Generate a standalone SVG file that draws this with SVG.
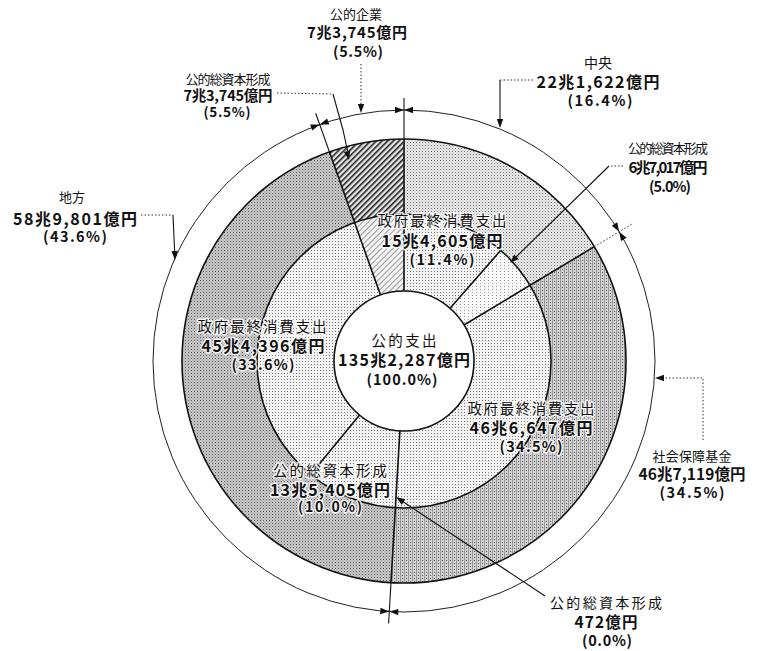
<svg xmlns="http://www.w3.org/2000/svg" width="765" height="651" viewBox="0 0 765 651">
<style>
text{font-family:"Noto Sans CJK JP","Noto Sans",sans-serif;fill:#111;text-anchor:middle}
.nm{font-weight:normal}
.nb{font-weight:bold}
.halo{stroke:#fff;stroke-width:3;stroke-linejoin:round;paint-order:stroke;stroke-opacity:0.85}
.bd{stroke:#111;stroke-width:1.6;fill:none}
.ext{stroke:#111;stroke-width:1.1;fill:none}
.dot{stroke:#333;stroke-width:1;fill:none;stroke-dasharray:1.5 2}
.ld{stroke:#111;stroke-width:1.1;fill:none}
.ah{fill:#111}
</style>
<defs>
<pattern id="pLight" width="3" height="3" patternUnits="userSpaceOnUse"><rect width="3" height="3" fill="#f3f3f3"/><rect width="1" height="1" fill="#7a7a7a"/></pattern>
<pattern id="pMid" width="3" height="3" patternUnits="userSpaceOnUse"><rect width="3" height="3" fill="#ececec"/><rect width="1" height="1" fill="#6a6a6a"/><rect x="1.5" y="1.5" width="1" height="1" fill="#a8a8a8"/></pattern>
<pattern id="pDark" width="3" height="3" patternUnits="userSpaceOnUse"><rect width="3" height="3" fill="#cacaca"/><rect width="1" height="1" fill="#555"/><rect x="1.5" y="1.5" width="1" height="1" fill="#888"/></pattern>
<pattern id="pDark2" width="4" height="3" patternUnits="userSpaceOnUse"><rect width="4" height="3" fill="#d2d2d2"/><rect width="1" height="3" fill="#999"/><rect x="2" y="1" width="1" height="1" fill="#555"/></pattern>
<pattern id="pHatch" width="4" height="4" patternUnits="userSpaceOnUse" patternTransform="rotate(45)"><rect width="4" height="4" fill="#e6e6e6"/><rect width="1.6" height="4" fill="#222"/></pattern>
<pattern id="pHatchL" width="4" height="4" patternUnits="userSpaceOnUse" patternTransform="rotate(45)"><rect width="4" height="4" fill="#f4f4f4"/><rect width="1" height="4" fill="#999"/></pattern>
<pattern id="pVLight" width="4" height="3" patternUnits="userSpaceOnUse"><rect width="4" height="3" fill="#fafafa"/><rect width="1" height="1" fill="#999"/></pattern>
<path id="ah" d="M0,0 L-9,-3.2 L-9,3.2 Z"/>
</defs>
<rect width="765" height="651" fill="#fff"/>

<g id="pie" transform="translate(404,361)">
  <g id="outer-ring">
    <path id="w-chuo" fill="url(#pMid)" d="M0,-222 A222,222 0 0 1 190.30,-114.33 L126.01,-75.71 A147,147 0 0 0 0,-147 Z"/>
    <path id="w-shaho" fill="url(#pDark2)" d="M190.30,-114.33 A222,222 0 0 1 -13.01,221.62 L-8.61,146.75 A147,147 0 0 0 126.01,-75.71 Z"/>
    <path id="w-chiho" fill="url(#pDark)" d="M-13.01,221.62 A222,222 0 0 1 -74.57,-209.10 L-49.38,-138.46 A147,147 0 0 0 -8.61,146.75 Z"/>
    <path id="w-kigyo" fill="url(#pHatch)" d="M-74.57,-209.10 A222,222 0 0 1 0,-222 L0,-147 A147,147 0 0 0 -49.38,-138.46 Z"/>
  </g>
  <g id="middle-ring">
    <path id="m-chuo-c" fill="url(#pLight)" d="M0,-147 A147,147 0 0 1 96.76,-110.66 L46.07,-52.70 A70,70 0 0 0 0,-70 Z"/>
    <path id="m-chuo-k" fill="url(#pVLight)" d="M96.76,-110.66 A147,147 0 0 1 126.01,-75.71 L60.00,-36.05 A70,70 0 0 0 46.07,-52.70 Z"/>
    <path id="m-shaho" fill="url(#pLight)" d="M126.01,-75.71 A147,147 0 0 1 -8.61,146.75 L-4.10,69.88 A70,70 0 0 0 60.00,-36.05 Z"/>
    <path id="m-chiho-k" fill="url(#pLight)" d="M-8.61,146.75 A147,147 0 0 1 -93.33,113.57 L-44.44,54.08 A70,70 0 0 0 -4.10,69.88 Z"/>
    <path id="m-chiho-c" fill="url(#pLight)" d="M-93.33,113.57 A147,147 0 0 1 -49.38,-138.46 L-23.51,-65.93 A70,70 0 0 0 -44.44,54.08 Z"/>
    <path id="m-kigyo" fill="url(#pHatchL)" d="M-49.38,-138.46 A147,147 0 0 1 0,-147 L0,-70 A70,70 0 0 0 -23.51,-65.93 Z"/>
  </g>
  <circle id="c-center" r="70" fill="#fff" stroke="#111" stroke-width="1.6"/>
  <circle r="147" class="bd"/>
  <circle r="222" class="bd"/>
  <circle r="251" fill="none" stroke="#222" stroke-width="1"/>
</g>

<g id="connectors">
  <g transform="translate(404,361)">
    <line class="bd" x1="0" y1="-70" x2="0" y2="-222"/>
    <line class="bd" x1="60.00" y1="-36.05" x2="190.30" y2="-114.33"/>
    <line class="bd" x1="-4.10" y1="69.88" x2="-13.01" y2="221.62"/>
    <line class="bd" x1="-23.51" y1="-65.93" x2="-74.57" y2="-209.10"/>
    <line class="bd" x1="46.07" y1="-52.70" x2="96.76" y2="-110.66"/>
    <line class="bd" x1="-44.44" y1="54.08" x2="-93.33" y2="113.57"/>
    <line class="ext" x1="0" y1="-222" x2="0" y2="-263"/>
    <line class="ext" x1="-74.57" y1="-209.10" x2="-88.34" y2="-247.72"/>
    <line class="ext" x1="-13.01" y1="221.62" x2="-15.41" y2="262.55"/>
    <line class="dot" x1="190.30" y1="-114.33" x2="228.02" y2="-136.99"/>
    <use href="#ah" class="ah" transform="translate(0,-251) rotate(0)"/>
    <use href="#ah" class="ah" transform="translate(0,-251) rotate(180)"/>
    <use href="#ah" class="ah" transform="translate(215.16,-129.27) rotate(59)"/>
    <use href="#ah" class="ah" transform="translate(215.16,-129.27) rotate(239)"/>
    <use href="#ah" class="ah" transform="translate(-14.71,250.57) rotate(183.36)"/>
    <use href="#ah" class="ah" transform="translate(-14.71,250.57) rotate(3.36)"/>
    <use href="#ah" class="ah" transform="translate(-84.31,-236.42) rotate(340.37)"/>
    <use href="#ah" class="ah" transform="translate(-84.31,-236.42) rotate(160.37)"/>
  </g>
  <polyline class="dot" points="361,64 361,105"/>
  <use href="#ah" class="ah" transform="translate(361,113) rotate(90)"/>
  <polyline class="dot" points="277,93 333,94"/>
  <polyline class="ld" points="333,94 343,130 348,153"/>
  <use href="#ah" class="ah" transform="translate(349,160) rotate(77)"/>
  <polyline class="dot" points="533,80 500,80"/>
  <polyline class="ld" points="500,80 500,121"/>
  <use href="#ah" class="ah" transform="translate(500,128) rotate(90)"/>
  <polyline class="dot" points="623,166 609,166"/>
  <polyline class="ld" points="609,166 515,258"/>
  <use href="#ah" class="ah" transform="translate(510,263) rotate(135.6)"/>
  <polyline class="dot" points="141,215 173,215"/>
  <polyline class="ld" points="173,215 174.7,253"/>
  <use href="#ah" class="ah" transform="translate(175,260) rotate(87.5)"/>
  <polyline class="dot" points="703,440 703,378 662,378"/>
  <use href="#ah" class="ah" transform="translate(655,378) rotate(180)"/>
  <polyline class="ld" points="545,596 402,501"/>
  <use href="#ah" class="ah" transform="translate(396,497) rotate(213.6)"/>
</g>

<g id="lbl-kigyo">
  <text><tspan class="nm" x="356" y="19" font-size="13" textLength="52">公的企業</tspan><tspan class="nb" x="357" y="38" font-size="15" textLength="100">7兆3,745億円</tspan><tspan class="nb" x="358" y="57" font-size="14.5" textLength="50">(5.5%)</tspan></text>
</g>
<g id="lbl-kigyo-k">
  <text><tspan class="nm" x="228" y="84" font-size="13" textLength="85">公的総資本形成</tspan><tspan class="nb" x="228" y="101" font-size="14.5" textLength="89">7兆3,745億円</tspan><tspan class="nb" x="227" y="117" font-size="13.5" textLength="47">(5.5%)</tspan></text>
</g>
<g id="lbl-chuo">
  <text><tspan class="nm" x="598" y="68" font-size="14">中央</tspan><tspan class="nb" x="598" y="88" font-size="16" textLength="123">22兆1,622億円</tspan><tspan class="nb" x="600" y="106" font-size="14.5" textLength="65">(16.4%)</tspan></text>
</g>
<g id="lbl-chuo-k">
  <text><tspan class="nm" x="668" y="153" font-size="13" textLength="80">公的総資本形成</tspan><tspan class="nb" x="668" y="173" font-size="15" textLength="79">6兆7,017億円</tspan><tspan class="nb" x="670" y="192" font-size="14.5" textLength="42">(5.0%)</tspan></text>
</g>
<g id="lbl-chiho">
  <text><tspan class="nm" x="72" y="202" font-size="13">地方</tspan><tspan class="nb" x="75" y="225" font-size="16" textLength="124">58兆9,801億円</tspan><tspan class="nb" x="75" y="242" font-size="14.5" textLength="64">(43.6%)</tspan></text>
</g>
<g id="lbl-shaho">
  <text><tspan class="nm" x="692" y="461" font-size="13" textLength="79">社会保障基金</tspan><tspan class="nb" x="692" y="480" font-size="15.5" textLength="107">46兆7,119億円</tspan><tspan class="nb" x="692" y="498" font-size="14.5" textLength="65">(34.5%)</tspan></text>
</g>
<g id="lbl-shaho-k">
  <text><tspan class="nm" x="606" y="608" font-size="14" textLength="112">公的総資本形成</tspan><tspan class="nb" x="606" y="628" font-size="15.5" textLength="63">472億円</tspan><tspan class="nb" x="607" y="646" font-size="14.5" textLength="50">(0.0%)</tspan></text>
</g>
<g id="lbl-chuo-c">
  <text class="halo"><tspan class="nm" x="442" y="226" font-size="14.5" textLength="129">政府最終消費支出</tspan><tspan class="nb" x="442" y="247" font-size="16" textLength="121">15兆4,605億円</tspan><tspan class="nb" x="442" y="265" font-size="14.5" textLength="65">(11.4%)</tspan></text>
</g>
<g id="lbl-chiho-c">
  <text class="halo"><tspan class="nm" x="262" y="332" font-size="14.5" textLength="129">政府最終消費支出</tspan><tspan class="nb" x="263" y="352" font-size="16" textLength="123">45兆4,396億円</tspan><tspan class="nb" x="263" y="370" font-size="14.5" textLength="63">(33.6%)</tspan></text>
</g>
<g id="lbl-total">
  <text><tspan class="nm" x="404" y="346" font-size="14.5" textLength="65">公的支出</tspan><tspan class="nb" x="404" y="366" font-size="16" textLength="132">135兆2,287億円</tspan><tspan class="nb" x="402" y="385" font-size="14.5" textLength="71">(100.0%)</tspan></text>
</g>
<g id="lbl-shaho-c">
  <text class="halo"><tspan class="nm" x="531" y="414" font-size="14.5" textLength="127">政府最終消費支出</tspan><tspan class="nb" x="531" y="434" font-size="16" textLength="123">46兆6,647億円</tspan><tspan class="nb" x="531" y="452" font-size="14.5" textLength="63">(34.5%)</tspan></text>
</g>
<g id="lbl-chiho-k">
  <text class="halo"><tspan class="nm" x="330" y="476" font-size="14.5" textLength="114">公的総資本形成</tspan><tspan class="nb" x="330" y="496" font-size="16" textLength="120">13兆5,405億円</tspan><tspan class="nb" x="330" y="512" font-size="14" textLength="64">(10.0%)</tspan></text>
</g>
</svg>
